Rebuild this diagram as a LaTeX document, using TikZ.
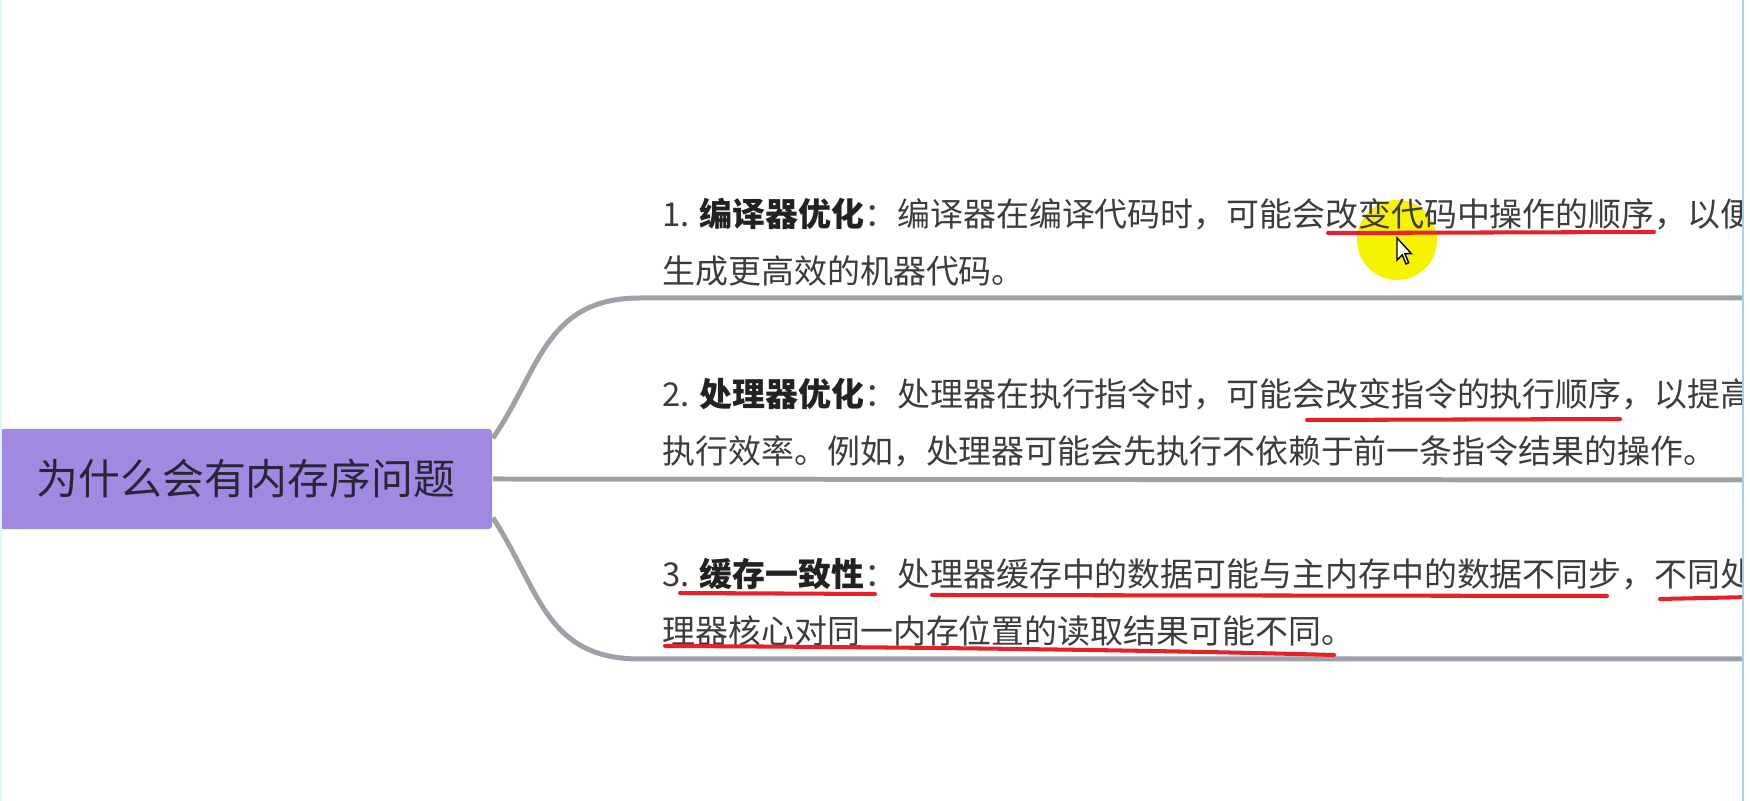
\documentclass[tikz,border=0pt]{standalone}
\usepackage{fontspec}
\setmainfont{Noto Sans CJK SC}
\usetikzlibrary{positioning, calc}

\definecolor{rootfill}{HTML}{A188E0}
\definecolor{rootink}{HTML}{2A2438}
\definecolor{branchgray}{HTML}{9DA2A8}
\definecolor{bodyink}{HTML}{3C3C3C}
\definecolor{titleink}{HTML}{222222}
\definecolor{penred}{HTML}{E8202A}
\definecolor{spotyellow}{HTML}{F6F200}
\definecolor{frameblue}{HTML}{A4D4DE}
\definecolor{framecyan}{HTML}{DDF8FA}

\begin{document}
\begin{tikzpicture}[x=0.01cm, y=-0.01cm,
  root/.style   = {rectangle, rounded corners=1pt, fill=rootfill, text=rootink,
                   minimum width=4.92cm, minimum height=1cm, inner sep=0pt,
                   font=\fontsize{11.9}{14}\selectfont},
  topic/.style  = {anchor=base west, inner sep=0pt, text=bodyink,
                   font=\fontsize{9.36}{11}\selectfont},
  ttl/.style    = {font=\bfseries, text=titleink},
  branch/.style = {draw=branchgray, line width=1.42pt},
  pen/.style    = {draw=penred, line width=1.15pt, line cap=round},
]
  \useasboundingbox (0,0) rectangle (1750,801);
  \fill[white] (0,0) rectangle (1750,801);

  \node[root] (root) at (246,479) {为什么会有内存序问题};

  \begin{scope}
    \clip (0,0) rectangle (1743,801);

    % branches of the mind map
    \coordinate (k1) at (640,298);
    \coordinate (k3) at (640,659);
    \coordinate (e1) at (1743,298);
    \coordinate (e2) at (1743,480);
    \coordinate (e3) at (1743,659);
    \draw[branch] ($(root.north east)+(0,10)$) .. controls (540,370) and (545,298) .. (k1) -- (e1);
    \draw[branch] (root.east) -- (e2);
    \draw[branch] ($(root.south east)+(0,-12)$) .. controls (540,590) and (545,659) .. (k3) -- (e3);

    % cursor spotlight
    \fill[spotyellow] (1397,240) circle (40);

    \node[topic] (t1a) at (662,227) {1. \textbf{\textcolor{titleink}{编译器优化}}：编译器在编译代码时，可能会改变代码中操作的顺序，以便};
    \node[topic] (t1b) at (662,284) {生成更高效的机器代码。};
    \node[topic] (t2a) at (662,407) {2. \textbf{\textcolor{titleink}{处理器优化}}：处理器在执行指令时，可能会改变指令的执行顺序，以提高};
    \node[topic] (t2b) at (662,464) {执行效率。例如，处理器可能会先执行不依赖于前一条指令结果的操作。};
    \node[topic] (t3a) at (662,587) {3. \textbf{\textcolor{titleink}{缓存一致性}}：处理器缓存中的数据可能与主内存中的数据不同步，不同处};
    \node[topic] (t3b) at (662,644) {理器核心对同一内存位置的读取结果可能不同。};

    % red pen marks
    \draw[pen] (1328,233) -- (1654,232);
    \draw[pen] (1307,420) -- (1620,419);
    \draw[pen] (680,593) -- (875,594);
    \draw[pen] (932,595) -- (1607,596);
    \draw[pen] (1660,599) -- (1752,597);
    \draw[pen] (665,646) .. controls (900,647) and (1150,650) .. (1334,655);

    % mouse pointer
    \filldraw[fill=white, draw=black, line width=0.4pt, shift={(1397,238)}, scale=1.3]
      (0,0) -- (0,17) -- (4,13) -- (7,20) -- (9,19) -- (6,12) -- (11,12) -- cycle;
  \end{scope}

  \draw[frameblue, line width=0.6pt] (1743,0) -- (1743,801);
  \draw[framecyan, line width=0.8pt] (1,0) -- (1,801);
\end{tikzpicture}
\end{document}
